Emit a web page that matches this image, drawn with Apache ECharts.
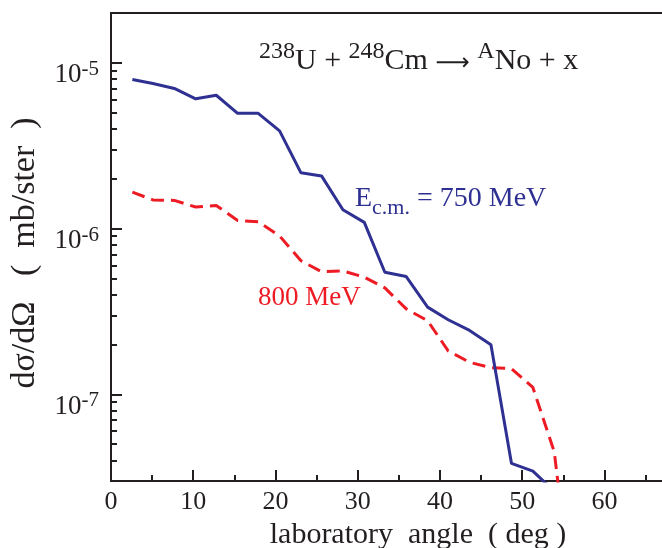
<!DOCTYPE html>
<html>
<head>
<meta charset="utf-8">
<script src="https://cdn.jsdelivr.net/npm/echarts@6/dist/echarts.min.js"></script>
<style>
html,body{margin:0;padding:0;background:#fff;}
#chart{width:662px;height:548px;}
</style>
</head>
<body>
<div id="chart"></div>
<script>
// ---- data ----
const angles = [2.6, 5.1, 7.7, 10.3, 12.8, 15.4, 17.9, 20.5, 23.1, 25.6, 28.2, 30.8, 33.3, 35.9, 38.5, 41.0, 43.6, 46.2, 48.7, 51.3, 53.9, 56.4];
const sigma750 = [7.94e-6, 7.51e-6, 7.01e-6, 6.07e-6, 6.38e-6, 4.96e-6, 4.96e-6, 3.89e-6, 2.17e-6, 2.08e-6, 1.30e-6, 1.09e-6, 5.45e-7, 5.14e-7, 3.36e-7, 2.82e-7, 2.43e-7, 1.99e-7, 3.83e-8, 3.44e-8, 2.6e-8, null];
const sigma800 = [1.66e-6, 1.49e-6, 1.48e-6, 1.35e-6, 1.38e-6, 1.12e-6, 1.10e-6, 9.03e-7, 6.40e-7, 5.50e-7, 5.56e-7, 5.09e-7, 4.39e-7, 3.28e-7, 2.78e-7, 1.83e-7, 1.56e-7, 1.45e-7, 1.43e-7, 1.10e-7, 4.5e-8, 4.2e-9];

// ---- axes / ticks ----
const xTicks = [0, 10, 20, 30, 40, 50, 60];
const xMinorTicks = [5, 15, 25, 35, 45, 55, 65];
const yMin = 3e-8, yMax = 2e-5;
const yTickValues = [1e-7, 1e-6, 1e-5];
const yTickExps = ['-7', '-6', '-5'];
const yMinorMantissas = [2, 3, 4, 5, 6, 7, 8, 9];
const yDecades = [-8, -7, -6, -5];

const FONT = '"Liberation Serif", "Times New Roman", serif';
const AX = '#231f20';
const BLUE = '#2e3192';
const RED = '#ed1c24';

const lg = Math.log10;
const yMajorLog = yTickValues.map(v => lg(v));
const yMinorLog = [];
yDecades.forEach(d => yMinorMantissas.forEach(m => yMinorLog.push(lg(m) + d)));

const chart = echarts.init(document.getElementById('chart'), null, {renderer: 'canvas'});

const option = {
  backgroundColor: '#fff',
  animation: false,
  grid: {left: 111, top: 13, right: 0, bottom: 67, containLabel: false, outerBoundsMode: 'none'},
  xAxis: [
    {
      type: 'value', min: 0, max: 67, position: 'bottom',
      axisLine: {show: true, lineStyle: {color: AX, width: 2}},
      axisTick: {show: true, inside: true, length: 11, lineStyle: {color: AX, width: 2}, customValues: xTicks},
      axisLabel: {show: true, customValues: xTicks, fontFamily: FONT, fontSize: 26, color: AX, margin: 8},
      splitLine: {show: false},
      name: 'laboratory  angle  ( deg )', nameLocation: 'middle', nameGap: 33,
      nameTextStyle: {fontFamily: FONT, fontSize: 30, color: AX, padding: [0, 0, 0, 63]}
    },
    {
      type: 'value', min: 0, max: 67, position: 'bottom',
      axisLine: {show: false},
      axisTick: {show: true, inside: true, length: 6, lineStyle: {color: AX, width: 2}, customValues: xMinorTicks},
      axisLabel: {show: false}, splitLine: {show: false}
    },
    {
      type: 'value', min: 0, max: 67, position: 'top',
      axisLine: {show: true, lineStyle: {color: AX, width: 2}},
      axisTick: {show: false}, axisLabel: {show: false}, splitLine: {show: false}
    }
  ],
  yAxis: [
    {
      type: 'log', logBase: 10, min: yMin, max: yMax, position: 'left',
      axisLine: {show: true, lineStyle: {color: AX, width: 2}},
      axisTick: {show: false},
      splitLine: {show: false},
      axisLabel: {
        show: true, margin: 12, padding: [22, 0, 0, 0],
        formatter: function (v) {
          const e = lg(v);
          for (let i = 0; i < yTickValues.length; i++) {
            if (Math.abs(e - lg(yTickValues[i])) < 1e-6) return '{b|10}{s|' + yTickExps[i] + '}';
          }
          return '';
        },
        rich: {
          b: {fontFamily: FONT, fontSize: 27, color: AX, lineHeight: 30, verticalAlign: 'bottom'},
          s: {fontFamily: FONT, fontSize: 21, color: AX, lineHeight: 20, verticalAlign: 'top'}
        }
      },
      name: 'dσ/dΩ   (  mb/ster  )', nameLocation: 'middle', nameGap: 69, nameRotate: 90,
      nameTextStyle: {fontFamily: FONT, fontSize: 34, color: AX, padding: [0, 12, 0, 0]}
    },
    {
      type: 'value', min: lg(yMin), max: lg(yMax), position: 'left',
      axisLine: {show: false},
      axisTick: {show: true, inside: true, length: 11, lineStyle: {color: AX, width: 2}, customValues: yMajorLog},
      axisLabel: {show: false}, splitLine: {show: false}
    },
    {
      type: 'value', min: lg(yMin), max: lg(yMax), position: 'left',
      axisLine: {show: false},
      axisTick: {show: true, inside: true, length: 6, lineStyle: {color: AX, width: 2}, customValues: yMinorLog},
      axisLabel: {show: false}, splitLine: {show: false}
    }
  ],
  series: [
    {
      name: '750 MeV', type: 'line', xAxisIndex: 0, yAxisIndex: 0,
      data: angles.map((a, i) => [a, sigma750[i]]),
      showSymbol: false, symbol: 'none', clip: true,
      lineStyle: {color: BLUE, width: 3, type: 'solid'}, z: 3
    },
    {
      name: '800 MeV', type: 'line', xAxisIndex: 0, yAxisIndex: 0,
      data: angles.map((a, i) => [a, sigma800[i]]),
      showSymbol: false, symbol: 'none', clip: true,
      lineStyle: {color: RED, width: 3, type: [13, 7]}, z: 2
    }
  ],
  graphic: [
    {
      type: 'text', left: 259, top: 40, silent: true,
      style: {
        text: '{s|238}{b|U + }{s|248}{b|Cm }{a|⟶}{b| }{s|A}{b|No + x}',
        fill: AX,
        rich: {
          b: {fontFamily: FONT, fontSize: 30, fill: AX, lineHeight: 36, verticalAlign: 'bottom'},
          a: {fontFamily: '"DejaVu Sans"', fontSize: 24, fill: AX, lineHeight: 34, verticalAlign: 'bottom'},
          s: {fontFamily: FONT, fontSize: 24, fill: AX, lineHeight: 24, verticalAlign: 'top'}
        }
      }
    },
    {
      type: 'text', left: 355, top: 185, silent: true,
      style: {
        text: '{b|E}{u|c.m.}{b| = 750 MeV}',
        fill: BLUE,
        rich: {
          b: {fontFamily: FONT, fontSize: 28, fill: BLUE, lineHeight: 34, verticalAlign: 'top'},
          u: {fontFamily: FONT, fontSize: 22, fill: BLUE, lineHeight: 22, verticalAlign: 'bottom'}
        }
      }
    },
    {
      type: 'text', left: 258, top: 284, silent: true,
      style: {text: '800 MeV', fill: RED, font: '27px ' + FONT}
    }
  ]
};
chart.setOption(option);
</script>
</body>
</html>
